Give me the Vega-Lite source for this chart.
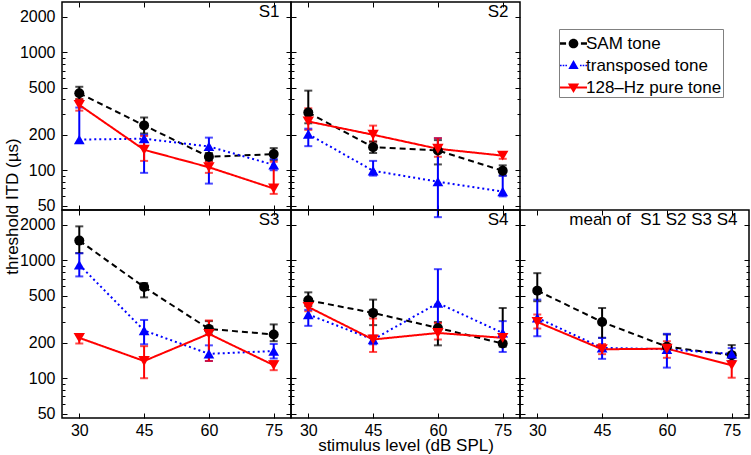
{
"$schema": "https://vega.github.io/schema/vega-lite/v6.json",
"padding": {"left": 2, "top": 0, "right": 0, "bottom": 0},
"config": {
  "font": "Liberation Sans",
  "view": {"stroke": "black", "strokeWidth": 1.5},
  "axis": {"grid": false, "domain": false, "tickColor": "black", "tickWidth": 1, "labelColor": "black", "labelFontSize": 16, "labelFont": "Liberation Sans", "titleFont": "Liberation Sans", "titleFontSize": 17, "titleFontWeight": "normal", "titleColor": "black", "labelFlush": false, "labelOverlap": false, "format": "d"},
  "title": {"anchor": "end", "offset": -19, "dx": -12, "fontSize": 17, "fontWeight": "normal", "baseline": "alphabetic", "color": "black", "font": "Liberation Sans"}
},
"data": {"values": [
{"s":"S1","g":"SAM tone","x":30,"t":450,"lo":400,"hi":510},
{"s":"S1","g":"SAM tone","x":45,"t":240,"lo":205,"hi":280},
{"s":"S1","g":"SAM tone","x":60,"t":130,"lo":120,"hi":140},
{"s":"S1","g":"SAM tone","x":75,"t":137,"lo":122,"hi":154},
{"s":"S1","g":"transposed tone","x":30,"t":182,"lo":170,"hi":340},
{"s":"S1","g":"transposed tone","x":45,"t":185,"lo":95,"hi":200},
{"s":"S1","g":"transposed tone","x":60,"t":159,"lo":77,"hi":189},
{"s":"S1","g":"transposed tone","x":75,"t":111,"lo":100,"hi":125},
{"s":"S1","g":"128–Hz pure tone","x":30,"t":358,"lo":320,"hi":400},
{"s":"S1","g":"128–Hz pure tone","x":45,"t":149,"lo":120,"hi":195},
{"s":"S1","g":"128–Hz pure tone","x":60,"t":106,"lo":95,"hi":118},
{"s":"S1","g":"128–Hz pure tone","x":75,"t":70,"lo":63,"hi":118},
{"s":"S2","g":"SAM tone","x":30,"t":308,"lo":250,"hi":473},
{"s":"S2","g":"SAM tone","x":45,"t":157,"lo":140,"hi":175},
{"s":"S2","g":"SAM tone","x":60,"t":147,"lo":112,"hi":180},
{"s":"S2","g":"SAM tone","x":75,"t":99,"lo":90,"hi":110},
{"s":"S2","g":"transposed tone","x":30,"t":202,"lo":160,"hi":225},
{"s":"S2","g":"transposed tone","x":45,"t":99,"lo":90,"hi":120},
{"s":"S2","g":"transposed tone","x":60,"t":80,"lo":40,"hi":187},
{"s":"S2","g":"transposed tone","x":75,"t":66,"lo":60,"hi":90},
{"s":"S2","g":"128–Hz pure tone","x":30,"t":259,"lo":220,"hi":335},
{"s":"S2","g":"128–Hz pure tone","x":45,"t":200,"lo":175,"hi":239},
{"s":"S2","g":"128–Hz pure tone","x":60,"t":152,"lo":130,"hi":187},
{"s":"S2","g":"128–Hz pure tone","x":75,"t":133,"lo":125,"hi":142},
{"s":"S3","g":"SAM tone","x":30,"t":1469,"lo":1150,"hi":1940},
{"s":"S3","g":"SAM tone","x":45,"t":593,"lo":485,"hi":641},
{"s":"S3","g":"SAM tone","x":60,"t":262,"lo":235,"hi":305},
{"s":"S3","g":"SAM tone","x":75,"t":235,"lo":206,"hi":286},
{"s":"S3","g":"transposed tone","x":30,"t":916,"lo":730,"hi":1148},
{"s":"S3","g":"transposed tone","x":45,"t":254,"lo":194,"hi":312},
{"s":"S3","g":"transposed tone","x":60,"t":161,"lo":140,"hi":190},
{"s":"S3","g":"transposed tone","x":75,"t":170,"lo":147,"hi":195},
{"s":"S3","g":"128–Hz pure tone","x":30,"t":220,"lo":197,"hi":235},
{"s":"S3","g":"128–Hz pure tone","x":45,"t":140,"lo":100,"hi":187},
{"s":"S3","g":"128–Hz pure tone","x":60,"t":238,"lo":140,"hi":309},
{"s":"S3","g":"128–Hz pure tone","x":75,"t":129,"lo":117,"hi":140},
{"s":"S4","g":"SAM tone","x":30,"t":458,"lo":410,"hi":535},
{"s":"S4","g":"SAM tone","x":45,"t":358,"lo":282,"hi":464},
{"s":"S4","g":"SAM tone","x":60,"t":267,"lo":190,"hi":300},
{"s":"S4","g":"SAM tone","x":75,"t":197,"lo":185,"hi":394},
{"s":"S4","g":"transposed tone","x":30,"t":347,"lo":278,"hi":380},
{"s":"S4","g":"transposed tone","x":45,"t":213,"lo":194,"hi":230},
{"s":"S4","g":"transposed tone","x":60,"t":434,"lo":271,"hi":841},
{"s":"S4","g":"transposed tone","x":75,"t":242,"lo":167,"hi":305},
{"s":"S4","g":"128–Hz pure tone","x":30,"t":402,"lo":370,"hi":440},
{"s":"S4","g":"128–Hz pure tone","x":45,"t":213,"lo":167,"hi":321},
{"s":"S4","g":"128–Hz pure tone","x":60,"t":242,"lo":213,"hi":294},
{"s":"S4","g":"128–Hz pure tone","x":75,"t":220,"lo":205,"hi":235},
{"s":"M","g":"SAM tone","x":30,"t":553,"lo":450,"hi":778},
{"s":"M","g":"SAM tone","x":45,"t":300,"lo":220,"hi":394},
{"s":"M","g":"SAM tone","x":60,"t":185,"lo":165,"hi":235},
{"s":"M","g":"SAM tone","x":75,"t":157,"lo":140,"hi":191},
{"s":"M","g":"transposed tone","x":30,"t":325,"lo":227,"hi":464},
{"s":"M","g":"transposed tone","x":45,"t":181,"lo":146,"hi":220},
{"s":"M","g":"transposed tone","x":60,"t":176,"lo":123,"hi":238},
{"s":"M","g":"transposed tone","x":75,"t":161,"lo":140,"hi":180},
{"s":"M","g":"128–Hz pure tone","x":30,"t":300,"lo":264,"hi":347},
{"s":"M","g":"128–Hz pure tone","x":45,"t":176,"lo":160,"hi":195},
{"s":"M","g":"128–Hz pure tone","x":60,"t":178,"lo":149,"hi":206},
{"s":"M","g":"128–Hz pure tone","x":75,"t":129,"lo":101,"hi":154}
]},
"resolve": {"scale": {"color": "shared", "shape": "shared", "strokeDash": "shared", "size": "shared", "x": "shared", "y": "shared"}, "legend": {"color": "independent"}},
"columns": 3,
"spacing": 0,
"bounds": "flush",
"concat": [
{
 "width": 229, "height": 208,
 "title": {"text": "S1"},
 "transform": [{"filter": "datum.s === 'S1'"}],
 "resolve": {"axis": {"x": "independent", "y": "independent"}},
 "layer": [
  {"mark": {"type": "errorbar", "thickness": 2, "ticks": {"size": 8, "thickness": 2}},
   "encoding": {"x": {"field": "x", "type": "quantitative", "scale": {"domain": [26, 79], "nice": false, "zero": false}, "axis": null},
    "y": {"field": "lo", "type": "quantitative", "scale": {"type": "log", "domain": [46, 2670], "nice": false}, "axis": null},
    "y2": {"field": "hi"},
    "color": {"field": "g", "type": "nominal", "scale": {"domain": ["SAM tone", "transposed tone", "128–Hz pure tone"], "range": ["#000000", "#0000ff", "#ff0000"]}, "legend": null}}},
  {"mark": {"type": "line", "strokeWidth": 2},
   "encoding": {"x": {"field": "x", "type": "quantitative", "axis": {"orient": "bottom", "values": [30, 45, 60, 75], "tickSize": -5, "labels": false, "title": null}},
    "y": {"field": "t", "type": "quantitative", "axis": {"orient": "left", "values": [50, 100, 200, 500, 1000, 2000], "tickSize": -5, "labelPadding": 12, "title": "threshold ITD (µs)", "titleX": -44.5, "titleY": 204, "titleAngle": 270, "titleBaseline": "alphabetic", "titleAlign": "center"}},
    "color": {"field": "g", "type": "nominal", "legend": null},
    "strokeDash": {"field": "g", "type": "nominal", "scale": {"domain": ["SAM tone", "transposed tone", "128–Hz pure tone"], "range": [[6, 4], [2, 3], [1, 0]]}, "legend": null}}},
  {"mark": {"type": "point", "filled": true, "opacity": 1},
   "encoding": {"x": {"field": "x", "type": "quantitative", "axis": {"orient": "top", "values": [30, 45, 60, 75], "tickSize": -5, "labels": false, "title": null}},
    "y": {"field": "t", "type": "quantitative", "axis": {"orient": "right", "values": [50, 100, 200, 500, 1000, 2000], "tickSize": -5, "labels": false, "title": null}},
    "color": {"field": "g", "type": "nominal", "legend": null},
    "shape": {"field": "g", "type": "nominal", "scale": {"domain": ["SAM tone", "transposed tone", "128–Hz pure tone"], "range": ["circle", "triangle-up", "triangle-down"]}, "legend": null},
    "size": {"field": "g", "type": "nominal", "scale": {"domain": ["SAM tone", "transposed tone", "128–Hz pure tone"], "range": [100, 130, 130]}, "legend": null}}},
  {"mark": {"type": "point", "opacity": 0},
   "encoding": {"x": {"field": "x", "type": "quantitative", "axis": null},
    "y": {"field": "t", "type": "quantitative", "axis": {"orient": "left", "values": [60, 70, 80, 90, 300, 400, 600, 700, 800, 900], "tickSize": -3, "labels": false, "title": null}}}},
  {"mark": {"type": "point", "opacity": 0},
   "encoding": {"x": {"field": "x", "type": "quantitative", "axis": null},
    "y": {"field": "t", "type": "quantitative", "axis": {"orient": "right", "values": [60, 70, 80, 90, 300, 400, 600, 700, 800, 900], "tickSize": -3, "labels": false, "title": null}}}}
 ]
},
{
 "width": 229, "height": 208,
 "title": {"text": "S2"},
 "transform": [{"filter": "datum.s === 'S2'"}],
 "resolve": {"axis": {"x": "independent", "y": "independent"}},
 "layer": [
  {"mark": {"type": "errorbar", "thickness": 2, "ticks": {"size": 8, "thickness": 2}},
   "encoding": {"x": {"field": "x", "type": "quantitative", "scale": {"domain": [26, 79], "nice": false, "zero": false}, "axis": null},
    "y": {"field": "lo", "type": "quantitative", "scale": {"type": "log", "domain": [46, 2670], "nice": false}, "axis": null},
    "y2": {"field": "hi"},
    "color": {"field": "g", "type": "nominal", "legend": null}}},
  {"mark": {"type": "line", "strokeWidth": 2},
   "encoding": {"x": {"field": "x", "type": "quantitative", "axis": {"orient": "bottom", "values": [30, 45, 60, 75], "tickSize": -5, "labels": false, "title": null}},
    "y": {"field": "t", "type": "quantitative", "axis": {"orient": "left", "values": [50, 100, 200, 500, 1000, 2000], "tickSize": -5, "labels": false, "title": null}},
    "color": {"field": "g", "type": "nominal", "legend": null},
    "strokeDash": {"field": "g", "type": "nominal", "legend": null}}},
  {"mark": {"type": "point", "filled": true, "opacity": 1},
   "encoding": {"x": {"field": "x", "type": "quantitative", "axis": {"orient": "top", "values": [30, 45, 60, 75], "tickSize": -5, "labels": false, "title": null}},
    "y": {"field": "t", "type": "quantitative", "axis": {"orient": "right", "values": [50, 100, 200, 500, 1000, 2000], "tickSize": -5, "labels": false, "title": null}},
    "color": {"field": "g", "type": "nominal", "legend": null},
    "shape": {"field": "g", "type": "nominal", "legend": null},
    "size": {"field": "g", "type": "nominal", "legend": null}}},
  {"mark": {"type": "point", "opacity": 0},
   "encoding": {"x": {"field": "x", "type": "quantitative", "axis": null},
    "y": {"field": "t", "type": "quantitative", "axis": {"orient": "left", "values": [60, 70, 80, 90, 300, 400, 600, 700, 800, 900], "tickSize": -3, "labels": false, "title": null}}}},
  {"mark": {"type": "point", "opacity": 0},
   "encoding": {"x": {"field": "x", "type": "quantitative", "axis": null},
    "y": {"field": "t", "type": "quantitative", "axis": {"orient": "right", "values": [60, 70, 80, 90, 300, 400, 600, 700, 800, 900], "tickSize": -3, "labels": false, "title": null}}}}
 ]
},
{
 "width": 229, "height": 208,
 "transform": [{"filter": "datum.s === 'M' && datum.x === 30"}],
 "view": {"stroke": null},
 "mark": {"type": "point", "filled": true, "opacity": 0},
 "encoding": {
  "color": {"field": "g", "type": "nominal",
   "legend": {"orient": "none", "legendX": 39, "legendY": 27, "title": null, "fillColor": "white", "strokeColor": "#808080", "padding": 1, "labelFontSize": 17, "labelFont": "Liberation Sans", "labelColor": "black", "labelOffset": -1, "rowPadding": -2.5, "symbolSize": 729, "symbolStrokeWidth": 0, "symbolOpacity": 1,
    "encode": {"symbols": {"update": {
      "shape": {"signal": "datum.value === 'SAM tone' ? 'M-1,-0.09H-0.55V0.09H-1Z M0.55,-0.09H1V0.09H0.55Z M-0.36,0A0.36,0.36 0 1,0 0.36,0A0.36,0.36 0 1,0 -0.36,0Z' : datum.value === 'transposed tone' ? 'M-1,-0.06h0.12v0.12h-0.12Z M-0.8,-0.06h0.12v0.12h-0.12Z M-0.6,-0.06h0.12v0.12h-0.12Z M0.48,-0.06h0.12v0.12h-0.12Z M0.68,-0.06h0.12v0.12h-0.12Z M0.88,-0.06h0.12v0.12h-0.12Z M0,-0.4L0.38,0.26L-0.38,0.26Z' : 'M-1,-0.08H1V0.08H-1Z M-0.42,-0.3L0.42,-0.3L0,0.4Z'"},
      "opacity": {"value": 1}}}}}}
 }
},
{
 "width": 229, "height": 208,
 "title": {"text": "S3"},
 "transform": [{"filter": "datum.s === 'S3'"}],
 "resolve": {"axis": {"x": "independent", "y": "independent"}},
 "layer": [
  {"mark": {"type": "errorbar", "thickness": 2, "ticks": {"size": 8, "thickness": 2}},
   "encoding": {"x": {"field": "x", "type": "quantitative", "scale": {"domain": [26, 79], "nice": false, "zero": false}, "axis": null},
    "y": {"field": "lo", "type": "quantitative", "scale": {"type": "log", "domain": [46, 2670], "nice": false}, "axis": null},
    "y2": {"field": "hi"},
    "color": {"field": "g", "type": "nominal", "legend": null}}},
  {"mark": {"type": "line", "strokeWidth": 2},
   "encoding": {"x": {"field": "x", "type": "quantitative", "axis": {"orient": "bottom", "values": [30, 45, 60, 75], "tickSize": -5, "labelPadding": 9, "title": null}},
    "y": {"field": "t", "type": "quantitative", "axis": {"orient": "left", "values": [50, 100, 200, 500, 1000, 2000], "tickSize": -5, "labelPadding": 12, "title": null}},
    "color": {"field": "g", "type": "nominal", "legend": null},
    "strokeDash": {"field": "g", "type": "nominal", "legend": null}}},
  {"mark": {"type": "point", "filled": true, "opacity": 1},
   "encoding": {"x": {"field": "x", "type": "quantitative", "axis": {"orient": "top", "values": [30, 45, 60, 75], "tickSize": -5, "labels": false, "title": null}},
    "y": {"field": "t", "type": "quantitative", "axis": {"orient": "right", "values": [50, 100, 200, 500, 1000, 2000], "tickSize": -5, "labels": false, "title": null}},
    "color": {"field": "g", "type": "nominal", "legend": null},
    "shape": {"field": "g", "type": "nominal", "legend": null},
    "size": {"field": "g", "type": "nominal", "legend": null}}},
  {"mark": {"type": "point", "opacity": 0},
   "encoding": {"x": {"field": "x", "type": "quantitative", "axis": null},
    "y": {"field": "t", "type": "quantitative", "axis": {"orient": "left", "values": [60, 70, 80, 90, 300, 400, 600, 700, 800, 900], "tickSize": -3, "labels": false, "title": null}}}},
  {"mark": {"type": "point", "opacity": 0},
   "encoding": {"x": {"field": "x", "type": "quantitative", "axis": null},
    "y": {"field": "t", "type": "quantitative", "axis": {"orient": "right", "values": [60, 70, 80, 90, 300, 400, 600, 700, 800, 900], "tickSize": -3, "labels": false, "title": null}}}}
 ]
},
{
 "width": 229, "height": 208,
 "title": {"text": "S4"},
 "transform": [{"filter": "datum.s === 'S4'"}],
 "resolve": {"axis": {"x": "independent", "y": "independent"}},
 "layer": [
  {"mark": {"type": "errorbar", "thickness": 2, "ticks": {"size": 8, "thickness": 2}},
   "encoding": {"x": {"field": "x", "type": "quantitative", "scale": {"domain": [26, 79], "nice": false, "zero": false}, "axis": null},
    "y": {"field": "lo", "type": "quantitative", "scale": {"type": "log", "domain": [46, 2670], "nice": false}, "axis": null},
    "y2": {"field": "hi"},
    "color": {"field": "g", "type": "nominal", "legend": null}}},
  {"mark": {"type": "line", "strokeWidth": 2},
   "encoding": {"x": {"field": "x", "type": "quantitative", "axis": {"orient": "bottom", "values": [30, 45, 60, 75], "tickSize": -5, "labelPadding": 9, "title": "stimulus level (dB SPL)", "titleY": 32, "titleBaseline": "alphabetic"}},
    "y": {"field": "t", "type": "quantitative", "axis": {"orient": "left", "values": [50, 100, 200, 500, 1000, 2000], "tickSize": -5, "labels": false, "title": null}},
    "color": {"field": "g", "type": "nominal", "legend": null},
    "strokeDash": {"field": "g", "type": "nominal", "legend": null}}},
  {"mark": {"type": "point", "filled": true, "opacity": 1},
   "encoding": {"x": {"field": "x", "type": "quantitative", "axis": {"orient": "top", "values": [30, 45, 60, 75], "tickSize": -5, "labels": false, "title": null}},
    "y": {"field": "t", "type": "quantitative", "axis": {"orient": "right", "values": [50, 100, 200, 500, 1000, 2000], "tickSize": -5, "labels": false, "title": null}},
    "color": {"field": "g", "type": "nominal", "legend": null},
    "shape": {"field": "g", "type": "nominal", "legend": null},
    "size": {"field": "g", "type": "nominal", "legend": null}}},
  {"mark": {"type": "point", "opacity": 0},
   "encoding": {"x": {"field": "x", "type": "quantitative", "axis": null},
    "y": {"field": "t", "type": "quantitative", "axis": {"orient": "left", "values": [60, 70, 80, 90, 300, 400, 600, 700, 800, 900], "tickSize": -3, "labels": false, "title": null}}}},
  {"mark": {"type": "point", "opacity": 0},
   "encoding": {"x": {"field": "x", "type": "quantitative", "axis": null},
    "y": {"field": "t", "type": "quantitative", "axis": {"orient": "right", "values": [60, 70, 80, 90, 300, 400, 600, 700, 800, 900], "tickSize": -3, "labels": false, "title": null}}}}
 ]
},
{
 "width": 229, "height": 208,
 "title": {"text": "mean of\u00a0 S1 S2 S3 S4"},
 "transform": [{"filter": "datum.s === 'M'"}],
 "resolve": {"axis": {"x": "independent", "y": "independent"}},
 "layer": [
  {"mark": {"type": "errorbar", "thickness": 2, "ticks": {"size": 8, "thickness": 2}},
   "encoding": {"x": {"field": "x", "type": "quantitative", "scale": {"domain": [26, 79], "nice": false, "zero": false}, "axis": null},
    "y": {"field": "lo", "type": "quantitative", "scale": {"type": "log", "domain": [46, 2670], "nice": false}, "axis": null},
    "y2": {"field": "hi"},
    "color": {"field": "g", "type": "nominal", "legend": null}}},
  {"mark": {"type": "line", "strokeWidth": 2},
   "encoding": {"x": {"field": "x", "type": "quantitative", "axis": {"orient": "bottom", "values": [30, 45, 60, 75], "tickSize": -5, "labelPadding": 9, "title": null}},
    "y": {"field": "t", "type": "quantitative", "axis": {"orient": "left", "values": [50, 100, 200, 500, 1000, 2000], "tickSize": -5, "labels": false, "title": null}},
    "color": {"field": "g", "type": "nominal", "legend": null},
    "strokeDash": {"field": "g", "type": "nominal", "legend": null}}},
  {"mark": {"type": "point", "filled": true, "opacity": 1},
   "encoding": {"x": {"field": "x", "type": "quantitative", "axis": {"orient": "top", "values": [30, 45, 60, 75], "tickSize": -5, "labels": false, "title": null}},
    "y": {"field": "t", "type": "quantitative", "axis": {"orient": "right", "values": [50, 100, 200, 500, 1000, 2000], "tickSize": -5, "labels": false, "title": null}},
    "color": {"field": "g", "type": "nominal", "legend": null},
    "shape": {"field": "g", "type": "nominal", "legend": null},
    "size": {"field": "g", "type": "nominal", "legend": null}}},
  {"mark": {"type": "point", "opacity": 0},
   "encoding": {"x": {"field": "x", "type": "quantitative", "axis": null},
    "y": {"field": "t", "type": "quantitative", "axis": {"orient": "left", "values": [60, 70, 80, 90, 300, 400, 600, 700, 800, 900], "tickSize": -3, "labels": false, "title": null}}}},
  {"mark": {"type": "point", "opacity": 0},
   "encoding": {"x": {"field": "x", "type": "quantitative", "axis": null},
    "y": {"field": "t", "type": "quantitative", "axis": {"orient": "right", "values": [60, 70, 80, 90, 300, 400, 600, 700, 800, 900], "tickSize": -3, "labels": false, "title": null}}}}
 ]
}
]
}
